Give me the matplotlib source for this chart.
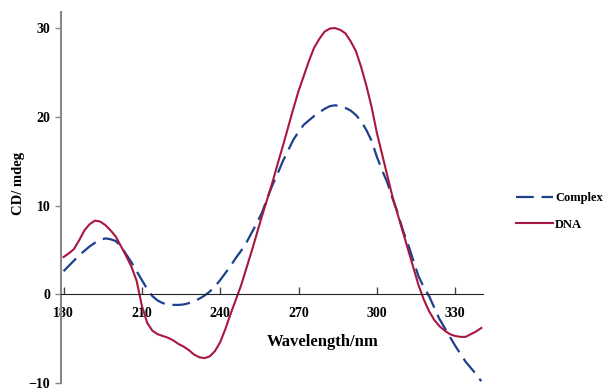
import matplotlib
matplotlib.use('Agg')
import matplotlib.pyplot as plt

plt.rcParams['font.family'] = ['Liberation Serif', 'DejaVu Serif']
plt.rcParams['font.weight'] = 'bold'

# wavelength grid, 2 nm steps
wavelength = list(range(180, 342, 2))
complex_cd = [2.6, 3.2, 3.8, 4.4, 4.9, 5.4, 5.8, 6.1, 6.3, 6.2,
              6.0, 5.4, 4.5, 3.6, 2.6, 1.6, 0.6, -0.2, -0.7, -1.0,
              -1.15, -1.2, -1.2, -1.15, -1.0, -0.8, -0.5, -0.15, 0.3, 0.9,
              1.6, 2.4, 3.2, 4.1, 4.9, 5.8, 6.9, 8.0, 9.2, 10.8,
              12.3, 13.6, 15.0, 16.2, 17.4, 18.3, 19.1, 19.6, 20.1, 20.5,
              20.9, 21.2, 21.3, 21.2, 21.0, 20.7, 20.2, 19.5, 18.5, 17.3,
              15.5, 14.0, 12.6, 10.8, 9.2, 7.2, 5.6, 3.8, 2.0, 0.8,
              -0.2, -1.5, -2.8, -3.8, -4.8, -5.8, -6.7, -7.6, -8.3, -9.0,
              -9.8]
dna_cd = [4.2, 4.6, 5.1, 6.1, 7.2, 7.9, 8.3, 8.2, 7.8, 7.2,
          6.5, 5.4, 4.3, 3.1, 1.5, -1.3, -3.2, -4.1, -4.5, -4.7,
          -4.9, -5.2, -5.6, -5.9, -6.3, -6.8, -7.1, -7.2, -7.0, -6.4,
          -5.4, -3.9, -2.2, -0.6, 1.0, 2.9, 4.8, 6.8, 8.8, 10.7,
          12.6, 14.7, 16.7, 18.8, 20.9, 22.9, 24.6, 26.3, 27.8, 28.8,
          29.6, 29.95, 30.0, 29.8, 29.4, 28.5, 27.4, 25.6, 23.5, 21.1,
          18.2, 15.8, 13.4, 11.0, 9.0, 7.0, 5.0, 3.0, 1.0, -0.6,
          -1.9, -2.9, -3.6, -4.1, -4.5, -4.7, -4.8, -4.8, -4.5, -4.2,
          -3.8]

xticks = [180, 210, 240, 270, 300, 330]
yticks = [-10, 0, 10, 20, 30]

fig = plt.figure(figsize=(6.16, 3.91), dpi=100)
ax = fig.add_axes([0.0998, 0.0205, 0.684, 0.9485])

ax.plot(wavelength, complex_cd, color='#1f3f8f', lw=1.6,
        linestyle=(0, (8, 3.5)), label='Complex')
ax.plot(wavelength, dna_cd, color='#a8173f', lw=1.5, label='DNA')

ax.set_xlim(179.2, 340.6)
ax.set_ylim(-10, 31.8)
ax.set_xticks(xticks)
ax.set_yticks(yticks)

ax.spines['top'].set_visible(False)
ax.spines['right'].set_visible(False)
ax.spines['bottom'].set_position(('data', 0))
ax.spines['bottom'].set_color('#222222')
ax.spines['left'].set_color('#888888')
ax.spines['left'].set_linewidth(1.5)

ax.tick_params(axis='x', direction='in', length=5, width=1, color='#444444',
               pad=9, labelsize=10)
ax.tick_params(axis='y', direction='out', length=4, width=1, color='#888888',
               pad=4, labelsize=10)
for lab in ax.get_xticklabels() + ax.get_yticklabels():
    lab.set_fontweight('bold')

fig.text(0.524, 0.125, 'Wavelength/nm', ha='center', va='center',
         fontsize=12, fontweight='bold')
fig.text(0.030, 0.532, 'CD/ mdeg', ha='center', va='center', rotation=90,
         fontsize=10.5, fontweight='bold')

ax.legend(loc='upper left', bbox_to_anchor=(0.837, 0.508),
          bbox_transform=fig.transFigure, frameon=False, fontsize=9,
          handlelength=3.0, handletextpad=0.15, labelspacing=1.15,
          borderpad=0, borderaxespad=0)

fig.savefig('out.png', dpi=100)
